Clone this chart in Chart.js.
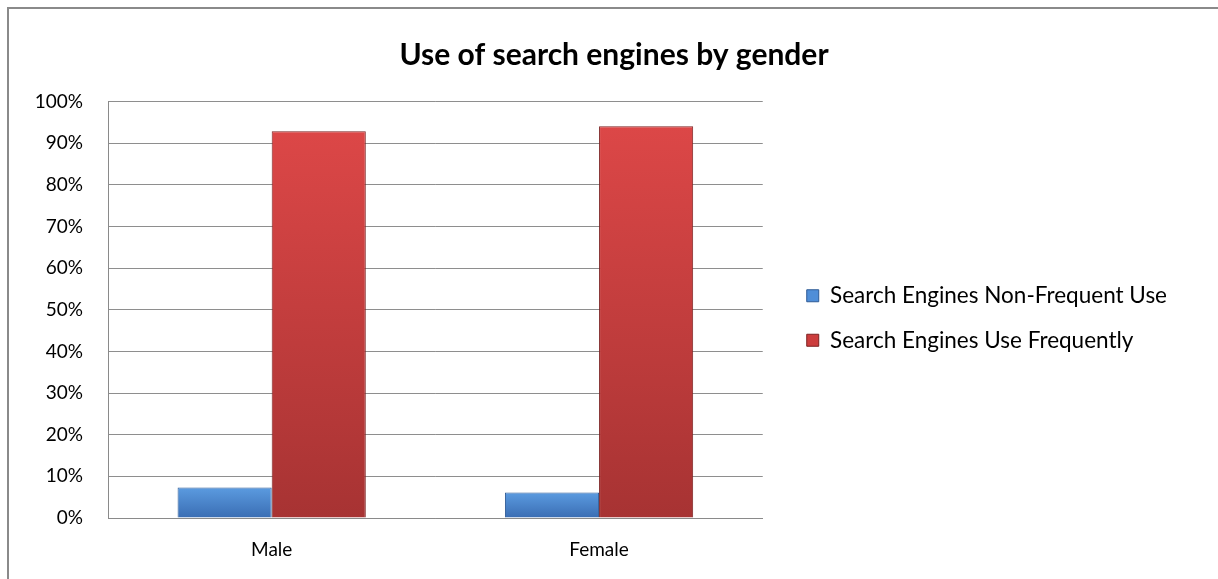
<!DOCTYPE html>
<html>
<head>
<meta charset="utf-8">
<script src="https://cdn.jsdelivr.net/npm/chart.js@4.4.0/dist/chart.umd.min.js"></script>
<style>
  html, body { margin: 0; padding: 0; background: #fff; }
  #wrap { width: 1218px; height: 579px; }
</style>
</head>
<body>
<div id="wrap"><canvas id="genderChart" width="1218" height="579"></canvas></div>
<script>
// values
var categories = ["Male", "Female"];
var nonFrequentUse = [7.3, 6.1];
var frequentUse = [92.9, 94.1];
var yTicks = [0, 10, 20, 30, 40, 50, 60, 70, 80, 90, 100];
var seriesNames = ["Search Engines Non-Frequent Use", "Search Engines Use Frequently"];

var FONT = "Lato, 'Open Sans', sans-serif";

// vertical shading like the excel bevel bars
function barFill(top, bottom) {
  return function (context) {
    var chart = context.chart;
    if (!chart.chartArea || context.parsed === undefined) return top;
    var y = chart.scales.y;
    var y0 = y.getPixelForValue(context.parsed.y);
    var y1 = y.getPixelForValue(0);
    if (!isFinite(y0) || y1 - y0 < 1) return top;
    var g = chart.ctx.createLinearGradient(0, y0, 0, y1);
    g.addColorStop(0, top);
    g.addColorStop(1, bottom);
    return g;
  };
}

// grey frame round the whole chart
var frame = {
  id: "frame",
  beforeDraw: function (chart) {
    var ctx = chart.ctx;
    ctx.save();
    ctx.strokeStyle = "#8a8a8a";
    ctx.lineWidth = 2;
    ctx.strokeRect(8, 8, 1230, 600);
    ctx.restore();
  },
};

var genderChart = new Chart(document.getElementById("genderChart"), {
  type: "bar",
  data: {
    labels: categories,
    datasets: [
      {
        label: seriesNames[0],
        data: nonFrequentUse,
        backgroundColor: barFill("#5b9be0", "#3a6db3"),
        borderColor: "#2f5b96",
        borderWidth: 1,
        categoryPercentage: 0.575,
        barPercentage: 1.0,
      },
      {
        label: seriesNames[1],
        data: frequentUse,
        backgroundColor: barFill("#dc4747", "#a73333"),
        borderColor: "#7d2222",
        borderWidth: 1,
        categoryPercentage: 0.575,
        barPercentage: 1.0,
      },
    ],
  },
  options: {
    responsive: false,
    animation: false,
    // right side runs a bit past the canvas so the title centre lands where it is in the original
    layout: { padding: { top: 11, right: -10, bottom: 20, left: 0 } },
    plugins: {
      title: {
        display: true,
        text: "Use of search engines by gender",
        color: "#000",
        font: { family: FONT, size: 30, weight: "bold" },
        padding: { top: 26, bottom: 28.7 },
      },
      legend: {
        position: "right",
        maxWidth: 600,
        // empty title only pushes the two rows down to where they sit in the original
        title: { display: true, text: " ", font: { size: 10, lineHeight: 1 }, padding: { top: 56, bottom: 0 } },
        labels: {
          color: "#000",
          font: { family: FONT, size: 22.5 },
          boxWidth: 12,
          boxHeight: 12,
          padding: 22,
          generateLabels: function (chart) {
            var fills = [["#4f8ed8", "#2f5b96"], ["#cc3d3d", "#7d2222"]];
            return chart.data.datasets.map(function (ds, i) {
              return {
                text: ds.label,
                fillStyle: fills[i][0],
                strokeStyle: fills[i][1],
                lineWidth: 1,
                fontColor: "#000",
                datasetIndex: i,
                hidden: !chart.isDatasetVisible(i),
              };
            });
          },
        },
      },
      tooltip: { enabled: false },
    },
    scales: {
      x: {
        grid: { display: false, drawTicks: false },
        border: { display: true, color: "#8a8a8a", width: 1 },
        ticks: {
          color: "#000",
          font: { family: FONT, size: 19, lineHeight: 1 },
          padding: 22,
        },
        afterFit: function (scale) {
          scale.height = 41;
        },
      },
      y: {
        min: 0,
        max: 100,
        afterBuildTicks: function (scale) {
          scale.ticks = yTicks.map(function (v) { return { value: v }; });
        },
        afterFit: function (scale) {
          scale.width = 108;
        },
        grid: { color: "#8e8e8e", lineWidth: 1, drawTicks: false },
        border: { display: true, color: "#8a8a8a", width: 1 },
        ticks: {
          color: "#000",
          font: { family: FONT, size: 19 },
          padding: 25,
          callback: function (v) { return v + "%"; },
        },
      },
      // spacer between plot and legend
      gap: {
        position: "right",
        display: true,
        grid: { display: false, drawTicks: false },
        border: { display: false },
        ticks: { display: false },
        afterFit: function (scale) {
          scale.width = 22;
        },
      },
      // spacer outside the legend, keeps the legend text ending where it does in the original
      edge: {
        position: "right",
        weight: 2000,
        display: true,
        grid: { display: false, drawTicks: false },
        border: { display: false },
        ticks: { display: false },
        afterFit: function (scale) {
          scale.width = 51;
        },
      },
    },
  },
  plugins: [frame],
});
</script>
</body>
</html>
